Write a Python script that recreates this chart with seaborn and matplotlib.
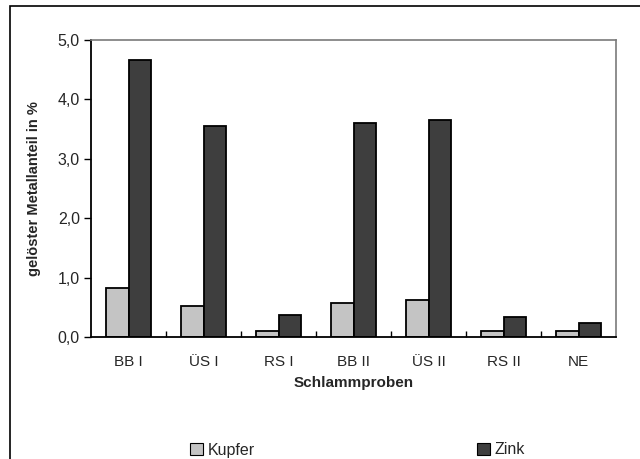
import matplotlib
matplotlib.use("Agg")
import matplotlib.pyplot as plt
import seaborn as sns
import pandas as pd
from matplotlib.patches import Rectangle, Patch
from matplotlib.ticker import FuncFormatter, FixedLocator

categories = ["BB I", "ÜS I", "RS I", "BB II", "ÜS II", "RS II", "NE"]
kupfer = [0.82, 0.52, 0.10, 0.57, 0.62, 0.10, 0.10]
zink = [4.67, 3.55, 0.37, 3.60, 3.65, 0.34, 0.24]
series_names = ["Kupfer", "Zink"]
colors = {"Kupfer": "#c4c4c4", "Zink": "#3e3e3e"}

df = pd.DataFrame({
    "Probe": categories * 2,
    "Metall": [series_names[0]] * len(categories) + [series_names[1]] * len(categories),
    "Wert": kupfer + zink,
})

sns.set_theme(style="white")
plt.rcParams["font.family"] = ["Liberation Sans", "DejaVu Sans"]

fig = plt.figure(figsize=(6.4, 4.59), dpi=100)
ax = fig.add_axes([91 / 640, 1 - 337 / 459, (616 - 91) / 640, (337 - 40) / 459])

sns.barplot(data=df, x="Probe", y="Wert", hue="Metall", order=categories,
            hue_order=series_names, palette=colors, width=0.59,
            edgecolor="black", linewidth=1.3, saturation=1, legend=False, ax=ax, errorbar=None)

ax.set_xlim(-0.5, len(categories) - 0.5)
ax.set_ylim(0, 5)
ax.set_yticks([0, 1, 2, 3, 4, 5])
ax.yaxis.set_major_formatter(FuncFormatter(lambda v, p: f"{v:.1f}".replace(".", ",")))
ax.tick_params(axis="y", direction="out", length=5, width=1, color="black",
               labelsize=11.5, pad=3, left=True)
ax.tick_params(axis="x", which="major", length=0, labelsize=11, pad=13)
ax.xaxis.set_minor_locator(FixedLocator([i + 0.5 for i in range(len(categories) - 1)]))
ax.tick_params(axis="x", which="minor", direction="in", length=4, width=1,
               color="black", bottom=True)

for s in ["left", "bottom"]:
    ax.spines[s].set_color("black")
    ax.spines[s].set_linewidth(1.3)
for s in ["top", "right"]:
    ax.spines[s].set_color("#7a7a7a")
    ax.spines[s].set_linewidth(1.2)

ax.set_xlabel("Schlammproben", fontsize=11, fontweight="bold", labelpad=5)
ax.set_ylabel("gelöster Metallanteil in %", fontsize=10.5, fontweight="bold", labelpad=12)

for name, x0 in zip(series_names, [190 / 640, 477 / 640]):
    fig.legend(handles=[Patch(facecolor=colors[name], edgecolor="black", linewidth=0.8, label=name)],
               loc="center left", bbox_to_anchor=(x0, 1 - 450 / 459), frameon=False,
               fontsize=11.5, handlelength=0.8, handleheight=0.8, handletextpad=0.3,
               borderpad=0, borderaxespad=0)

fig.add_artist(Rectangle((10 / 640, -0.2), 1.2, 1 - 6 / 459 + 0.2, transform=fig.transFigure,
                         fill=False, edgecolor="black", linewidth=1.2))

fig.savefig("out.png", dpi=100)
